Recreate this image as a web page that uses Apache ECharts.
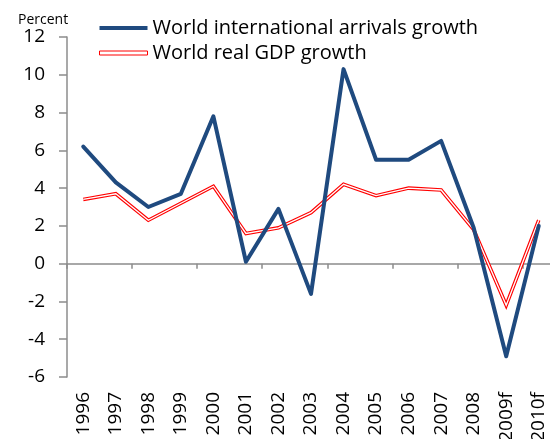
<!DOCTYPE html>
<html>
<head>
<meta charset="utf-8">
<script src="https://cdn.jsdelivr.net/npm/echarts@6/dist/echarts.min.js"></script>
<style>
  html, body { margin: 0; padding: 0; background: #fff; }
  #chart { width: 550px; height: 439px; }
</style>
</head>
<body>
<div id="chart"></div>
<script>
// Years on the category axis (f = forecast)
const years = ['1996', '1997', '1998', '1999', '2000', '2001', '2002', '2003',
               '2004', '2005', '2006', '2007', '2008', '2009f', '2010f'];
// Annual growth rates, percent
const arrivalsGrowth = [6.2, 4.3, 3.0, 3.7, 7.8, 0.1, 2.9, -1.6, 10.3, 5.5, 5.5, 6.5, 1.9, -4.9, 2.0];
const gdpGrowth = [3.4, 3.7, 2.3, 3.2, 4.1, 1.6, 1.9, 2.7, 4.2, 3.6, 4.0, 3.9, 1.8, -2.2, 2.3];
// Value axis range
const yMin = -6, yMax = 12, yStep = 2;

const FONT = 'Open Sans';
const BLUE = '#1f4a7f';
const RED = '#ff0000';
const AXIS_GREY = '#8c8c8c';

const chart = echarts.init(document.getElementById('chart'), null, { renderer: 'canvas' });

chart.setOption({
  animation: false,
  backgroundColor: '#ffffff',
  textStyle: { fontFamily: FONT },
  title: {
    text: 'Percent',
    left: 13,
    top: 8,
    textStyle: { fontFamily: FONT, fontSize: 14, fontWeight: 'normal', color: '#000' }
  },
  legend: {
    orient: 'vertical',
    left: 94,
    top: 13,
    itemWidth: 48,
    itemHeight: 4,
    itemGap: 5,
    textStyle: { fontFamily: FONT, fontSize: 20, color: '#000' },
    data: [
      { name: 'World international arrivals growth', icon: 'rect',
        itemStyle: { color: BLUE, borderWidth: 0 } },
      { name: 'World real GDP growth', icon: 'rect',
        itemStyle: { color: '#fff', borderColor: RED, borderWidth: 1 } }
    ]
  },
  grid: { left: 67, right: -5, top: 37, bottom: 62, outerBoundsMode: 'none', containLabel: false },
  xAxis: [
    {
      // axis line through zero with tick marks between categories
      type: 'category',
      data: years,
      position: 'bottom',
      boundaryGap: true,
      axisLine: { onZero: true, lineStyle: { color: AXIS_GREY, width: 1.5 } },
      axisTick: { show: true, length: 5, inside: false, lineStyle: { color: AXIS_GREY, width: 1.5 } },
      axisLabel: { show: false },
      splitLine: { show: false }
    },
    {
      // year labels along the bottom of the plot
      type: 'category',
      data: years,
      position: 'bottom',
      boundaryGap: true,
      axisLine: { show: false, onZero: false },
      axisTick: { show: false },
      axisLabel: {
        show: true, rotate: 90, margin: 15, interval: 0,
        fontFamily: FONT, fontSize: 19, color: '#000'
      },
      splitLine: { show: false }
    }
  ],
  yAxis: {
    type: 'value',
    min: yMin,
    max: yMax,
    interval: yStep,
    axisLine: { show: true, lineStyle: { color: AXIS_GREY, width: 1.5 } },
    axisTick: { show: true, length: 8, inside: false, lineStyle: { color: AXIS_GREY, width: 1.5 } },
    axisLabel: { margin: 22, fontFamily: FONT, fontSize: 19, color: '#000' },
    splitLine: { show: false }
  },
  series: [
    {
      name: 'World real GDP growth',
      type: 'line',
      data: gdpGrowth,
      symbol: 'none',
      z: 2,
      lineStyle: { color: RED, width: 3.6, join: 'miter' },
      itemStyle: { color: RED }
    },
    {
      // white core that turns the red stroke into a double line
      name: 'gdpCore',
      type: 'line',
      data: gdpGrowth,
      symbol: 'none',
      z: 3,
      silent: true,
      lineStyle: { color: '#ffffff', width: 1.3, join: 'miter' }
    },
    {
      name: 'World international arrivals growth',
      type: 'line',
      data: arrivalsGrowth,
      symbol: 'none',
      z: 4,
      lineStyle: { color: BLUE, width: 4, join: 'round', cap: 'round' },
      itemStyle: { color: BLUE }
    }
  ]
});
</script>
</body>
</html>
